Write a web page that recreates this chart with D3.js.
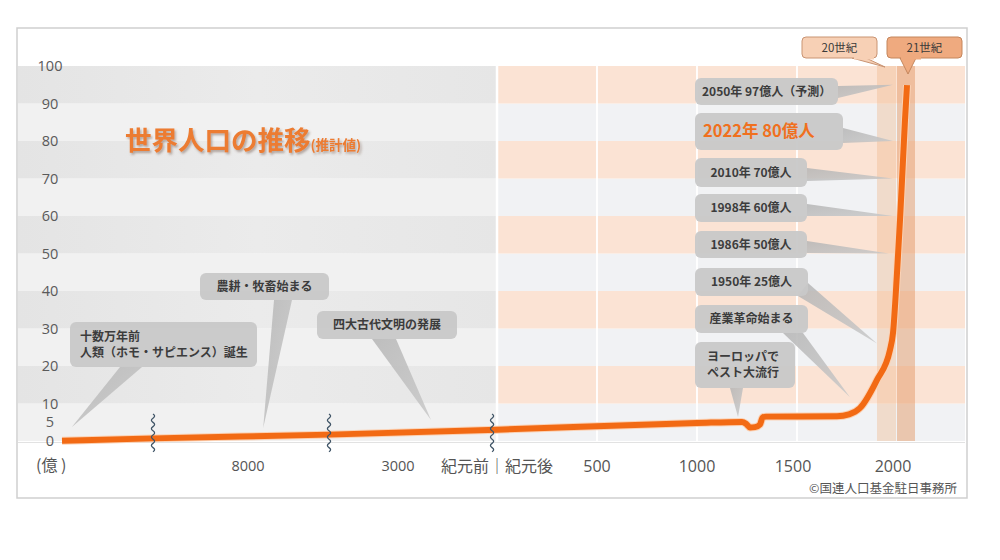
<!DOCTYPE html>
<html><head><meta charset="utf-8">
<script src="https://cdn.jsdelivr.net/npm/d3@7/dist/d3.min.js"></script>
<style>
body{margin:0;background:#fff;}
svg{display:block;font-family:"Noto Sans CJK JP","Noto Sans",sans-serif;}
</style>
</head><body>
<svg id="chart" width="1000" height="560"></svg>
<script>
// ---------- data ----------
const yTicks = [0, 5, 10, 20, 30, 40, 50, 60, 70, 80, 90, 100];
const stripeStarts = [0, 10, 20, 30, 40, 50, 60, 70, 80, 90];
const darkStripeStarts = [10, 30, 50, 70, 90];
const adTickYears = [500, 1000, 1500, 2000];
const adTickLabels = ["500", "1000", "1500", "2000"];
const bcTickYears = [-8000, -3000];
const bcTickLabels = ["8000", "3000"];
const breakYears = [-9000, -4000, -150];
const gridYears = [500, 1000, 1500];
const centuryStarts = [1900, 2000];
const centuryLabels = ["20世紀", "21世紀"];
const popYears  = [-150000, -9000, -4000, 0, 1000, 1225, 1245, 1265, 1290, 1315, 1328, 1345, 1700, 1760, 1815, 1900, 1965, 1980, 2000, 2015, 2030, 2040, 2050];
const popValues = [0.05, 0.7, 1.7, 3.0, 4.8, 5.1, 4.6, 3.6, 3.7, 4.4, 6.3, 6.5, 6.6, 7.1, 8.8, 16.3, 24.3, 28.8, 44.8, 58.9, 74.9, 85.6, 94.9];
const noteTexts = [
  ["十数万年前", "人類（ホモ・サピエンス）誕生"],
  ["農耕・牧畜始まる"],
  ["四大古代文明の発展"],
  ["ヨーロッパで", "ペスト大流行"],
  ["産業革命始まる"],
  ["1950年 25億人"],
  ["1986年 50億人"],
  ["1998年 60億人"],
  ["2010年 70億人"],
  ["2022年 80億人"],
  ["2050年 97億人（予測）"]
];
const noteAnchorYears  = [-135000, -7250, -2000, 1205, 1765, 1900, 1960, 1980, 1980, 1980, 1980];
const noteAnchorValues = [3.7, 3.5, 5.6, 6.4, 11.7, 26, 50, 60, 70, 80, 95];

// ---------- layout (annotation boxes, not data) ----------
const noteLayout = [
  {box:[70,322,187,45], base:[[120,367],[142,367]], align:"start", tx:80},
  {box:[200,273,129,27], base:[[274,300],[292,300]], align:"middle"},
  {box:[317,311,140,28], base:[[372,339],[396,339]], align:"middle"},
  {box:[695,342,100,46], base:[[730,388],[743,388]], align:"start", tx:707},
  {box:[695,305,113,28], base:[[783,333],[803,333]], align:"middle"},
  {box:[695,268,113,28], base:[[798,296],[808,283]], align:"middle"},
  {box:[695,231,112,27], base:[[807,241],[807,253]], align:"middle"},
  {box:[695,194,112,28], base:[[807,204],[807,216]], align:"middle"},
  {box:[695,158,112,29], base:[[807,168],[807,181]], align:"middle"},
  {box:[695,113,148,37], base:[[843,128],[843,143]], align:"start", tx:703, big:true},
  {box:[695,78,143,27], base:[[838,86],[838,98]], align:"start", tx:702}
];

const svg = d3.select("#chart");
const FRAME = {x0:17, y0:28, x1:967, y1:498};
const plotRight = 965;

const x = d3.scaleLinear()
  .domain([-150000, -9000, -8000, -4000, -3000, 0, 2340])
  .range([62, 153, 248, 329, 398, 497, 965]);
const y = d3.scaleLinear().domain([0, 100]).range([441, 66]);

// frame
svg.append("rect").attr("x", FRAME.x0).attr("y", FRAME.y0)
  .attr("width", FRAME.x1 - FRAME.x0).attr("height", FRAME.y1 - FRAME.y0)
  .attr("fill", "#fff").attr("stroke", "#cfcfcf").attr("stroke-width", 1.5);

// defs
const defs = svg.append("defs");
const gradL = defs.append("linearGradient").attr("id", "gl");
gradL.append("stop").attr("offset", "0%").attr("stop-color", "#e4e4e4");
gradL.append("stop").attr("offset", "50%").attr("stop-color", "#ebebeb");
gradL.append("stop").attr("offset", "100%").attr("stop-color", "#e6e6e6");
const tg = defs.append("linearGradient").attr("id", "tailg").attr("x1", 0).attr("y1", 0).attr("x2", 1).attr("y2", 1);
tg.append("stop").attr("offset", "0%").attr("stop-color", "#b5b5b5");
tg.append("stop").attr("offset", "100%").attr("stop-color", "#c8c8c8");
const sh = defs.append("filter").attr("id", "tshadow").attr("x", "-10%").attr("y", "-30%").attr("width", "130%").attr("height", "170%");
sh.append("feDropShadow").attr("dx", 1.5).attr("dy", 2).attr("stdDeviation", 1.2)
  .attr("flood-color", "#6b5040").attr("flood-opacity", 0.45);

// stripes
const xDiv = x(0);
stripeStarts.forEach(v => {
  const dark = darkStripeStarts.includes(v);
  svg.append("rect").attr("x", FRAME.x0 + 1).attr("y", y(v + 10))
    .attr("width", xDiv - FRAME.x0 - 1).attr("height", y(v) - y(v + 10))
    .attr("fill", dark ? "url(#gl)" : "#f1f1f1");
  svg.append("rect").attr("x", xDiv).attr("y", y(v + 10))
    .attr("width", plotRight - xDiv).attr("height", y(v) - y(v + 10))
    .attr("fill", dark ? "#fbe3d4" : "#f1f2f4");
});

// white vertical grid lines
svg.append("line").attr("x1", xDiv).attr("x2", xDiv).attr("y1", y(100)).attr("y2", y(0))
  .attr("stroke", "#fff").attr("stroke-width", 2.5);
gridYears.forEach(g => {
  svg.append("line").attr("x1", x(g)).attr("x2", x(g)).attr("y1", y(100)).attr("y2", y(0))
    .attr("stroke", "#fff").attr("stroke-width", 1.8);
});

// century bands
svg.append("rect").attr("x", x(centuryStarts[0])).attr("y", y(100))
  .attr("width", x(centuryStarts[1]) - x(centuryStarts[0]) - 1).attr("height", y(0) - y(100))
  .attr("fill", "#efb88f").attr("opacity", 0.4);
svg.append("rect").attr("x", x(centuryStarts[1])).attr("y", y(100))
  .attr("width", x(centuryStarts[1] + 90) - x(centuryStarts[1])).attr("height", y(0) - y(100))
  .attr("fill", "#e49a68").attr("opacity", 0.5);

// baseline
svg.append("line").attr("x1", FRAME.x0 + 1).attr("x2", plotRight).attr("y1", y(0) + 1.5).attr("y2", y(0) + 1.5)
  .attr("stroke", "#e2e2e2").attr("stroke-width", 1);

// y axis labels
svg.append("g").selectAll("text").data(yTicks).join("text")
  .attr("x", 50).attr("y", d => y(d)).attr("dy", "0.35em")
  .attr("text-anchor", "middle").attr("font-size", 14.5).attr("fill", "#5a5a5a")
  .attr("font-family", "'Open Sans','Noto Sans',sans-serif")
  .text(d => d);

// x axis labels
svg.append("text").attr("x", 36).attr("y", 471).attr("font-size", 16).attr("fill", "#555").text("(億 )");
svg.append("g").selectAll("text").data(bcTickYears).join("text")
  .attr("x", d => x(d)).attr("y", 471).attr("text-anchor", "middle")
  .attr("font-size", 14.5).attr("fill", "#555").attr("font-family", "'Open Sans','Noto Sans',sans-serif")
  .text((d, i) => bcTickLabels[i]);
svg.append("g").selectAll("text").data(adTickYears).join("text")
  .attr("x", d => x(d) - (d >= 1500 ? 4 : 0)).attr("y", 472).attr("text-anchor", "middle")
  .attr("font-size", 16).attr("fill", "#555").attr("font-family", "'Open Sans','Noto Sans',sans-serif")
  .text((d, i) => adTickLabels[i]);
svg.append("text").attr("x", xDiv).attr("y", 472).attr("text-anchor", "middle")
  .attr("font-size", 16).attr("fill", "#555").text("紀元前｜紀元後");

// annotation tails + boxes
const noteG = svg.append("g");
noteTexts.forEach((lines, i) => {
  const L = noteLayout[i];
  const tip = [x(noteAnchorYears[i]), y(noteAnchorValues[i])];
  noteG.append("polygon")
    .attr("points", [L.base[0], L.base[1], tip].map(p => p.join(",")).join(" "))
    .attr("fill", "url(#tailg)").attr("opacity", 0.85);
});
noteTexts.forEach((lines, i) => {
  const L = noteLayout[i];
  const [bx, by, bw, bh] = L.box;
  noteG.append("rect").attr("x", bx).attr("y", by).attr("width", bw).attr("height", bh)
    .attr("rx", 6).attr("fill", "#c8c8c8").attr("opacity", 0.95);
  const fs = L.big ? 16.5 : 12;
  const lh = 16;
  const tx = L.align === "middle" ? bx + bw / 2 : L.tx;
  const cy = by + bh / 2;
  lines.forEach((t, j) => {
    noteG.append("text")
      .attr("x", tx).attr("y", cy + (j - (lines.length - 1) / 2) * lh)
      .attr("dy", "0.36em").attr("text-anchor", L.align)
      .attr("font-size", fs).attr("font-weight", "bold")
      .attr("fill", L.big ? "#f0701e" : "#3c3c3c")
      .text(t);
  });
});

// century labels
const cBoxes = [
  {box:[802,37,75,21], fill:"#f7d0b5", stroke:"#c99473", tail:[[852,58],[866,58],[885,67]]},
  {box:[887,37,75,21], fill:"#efaa7f", stroke:"#c4865d", tail:[[900,58],[916,58],[908,74]]}
];
cBoxes.forEach((c, i) => {
  svg.append("polygon").attr("points", c.tail.map(p => p.join(",")).join(" "))
    .attr("fill", c.fill).attr("stroke", c.stroke).attr("stroke-width", 1);
  svg.append("rect").attr("x", c.box[0]).attr("y", c.box[1]).attr("width", c.box[2]).attr("height", c.box[3])
    .attr("rx", 4).attr("fill", c.fill).attr("stroke", c.stroke).attr("stroke-width", 1);
  svg.append("rect").attr("x", c.box[0] + (i === 0 ? 52 : 14)).attr("y", c.box[1] + c.box[3] - 1.5)
    .attr("width", 20).attr("height", 3).attr("fill", c.fill);
  svg.append("text").attr("x", c.box[0] + c.box[2] / 2).attr("y", c.box[1] + c.box[3] / 2)
    .attr("dy", "0.36em").attr("text-anchor", "middle").attr("font-size", 11.5)
    .attr("fill", "#3a3a3a").text(centuryLabels[i]);
});

// population line
const pts = popYears.map((yr, i) => [yr, popValues[i]]);
const line = d3.line().x(d => x(d[0])).y(d => y(d[1])).curve(d3.curveMonotoneX);
svg.append("path").datum(pts).attr("d", line)
  .attr("fill", "none").attr("stroke", "#fbd2b5").attr("stroke-width", 8).attr("stroke-linejoin", "round");
svg.append("path").datum(pts).attr("d", line)
  .attr("fill", "none").attr("stroke", "#f26a14").attr("stroke-width", 6).attr("stroke-linejoin", "round");

// break marks
breakYears.forEach(b => {
  const bx = x(b);
  const path = d3.path();
  path.moveTo(bx, 414);
  for (let k = 0; k < 9; k++) {
    const y0 = 414 + k * 4.2;
    path.quadraticCurveTo(bx + (k % 2 ? -3.2 : 3.2), y0 + 2.1, bx, y0 + 4.2);
  }
  svg.append("path").attr("d", path.toString()).attr("fill", "none")
    .attr("stroke", "#3f5466").attr("stroke-width", 1.3);
});

// title
const title = svg.append("text").attr("x", 125).attr("y", 150)
  .attr("font-weight", "bold").attr("fill", "#ec7b30").attr("filter", "url(#tshadow)");
title.append("tspan").attr("font-size", 26.5).text("世界人口の推移");
title.append("tspan").attr("font-size", 13.5).attr("dy", 0).text("(推計値)");

// credit
svg.append("text").attr("x", 957).attr("y", 493).attr("text-anchor", "end")
  .attr("font-size", 12.5).attr("fill", "#555").text("©国連人口基金駐日事務所");
</script>
</body></html>
